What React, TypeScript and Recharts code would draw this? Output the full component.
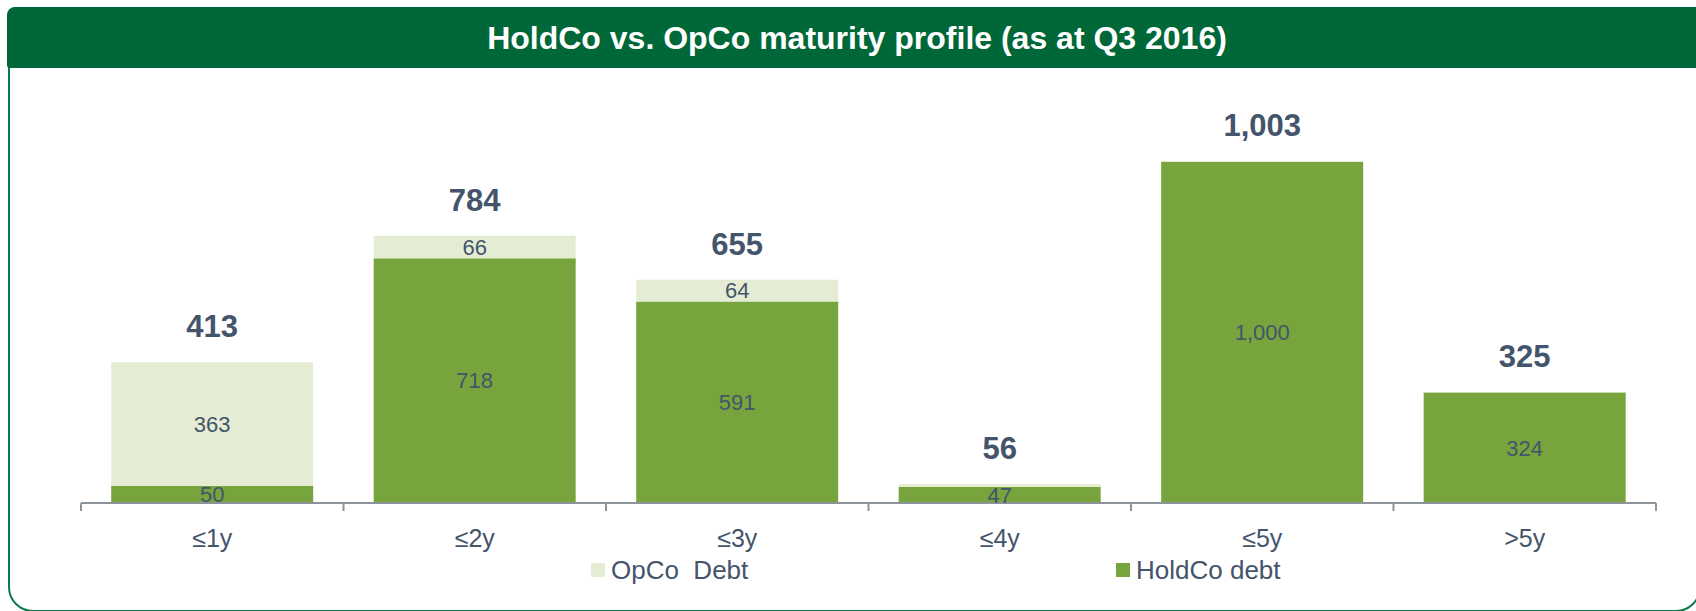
import React from 'react';
import { BarChart, Bar, XAxis, YAxis, LabelList, Legend } from 'recharts';

const categories = ['≤1y', '≤2y', '≤3y', '≤4y', '≤5y', '>5y'];
const holdcoDebt = [50, 718, 591, 47, 1000, 324];
const opcoDebt = [363, 66, 64, 9, 3, 1];
const totals = [413, 784, 655, 56, 1003, 325];
const seriesNames = ['OpCo  Debt', 'HoldCo debt'];

const data = categories.map((c, i) => ({
  category: c,
  holdco: holdcoDebt[i],
  opco: opcoDebt[i],
  total: totals[i],
}));

const DARK_GREEN = '#77A43C';
const LIGHT_GREEN = '#E4EDD4';
const TEXT = '#44546A';
const AXIS = '#8C9399';
const TICK_SIZE = 8;
const TICK_MARGIN = 18;
const FONT = '"Liberation Sans", Arial, sans-serif';

const fmt = (v: any) => Number(v).toLocaleString('en-US');

const CustomTick = (props: any) => {
  const { x, y, payload, index, visibleTicksCount } = props;
  const half = payload && payload.offset ? payload.offset : 131.25;
  const axisY = y - TICK_SIZE - TICK_MARGIN;
  const isLast = index === visibleTicksCount - 1;
  return (
    <g>
      <line x1={x - half} x2={x - half} y1={axisY} y2={axisY + TICK_SIZE} stroke={AXIS} strokeWidth={2} />
      {isLast && (
        <line x1={x + half} x2={x + half} y1={axisY} y2={axisY + TICK_SIZE} stroke={AXIS} strokeWidth={2} />
      )}
      <text x={x} y={y} dy="0.71em" textAnchor="middle" fontSize={25} fill={TEXT} fontFamily={FONT}>
        {payload.value}
      </text>
    </g>
  );
};

const legendItems = [
  { name: seriesNames[0], color: LIGHT_GREEN, left: 591 },
  { name: seriesNames[1], color: DARK_GREEN, left: 1116 },
];

const LegendContent = () => (
  <div style={{ position: 'relative', height: 0, width: 1696 }}>
    {legendItems.map((it) => (
      <div
        key={it.name}
        style={{
          position: 'absolute',
          left: it.left,
          top: 0,
          display: 'flex',
          alignItems: 'center',
          whiteSpace: 'pre',
          fontFamily: FONT,
          fontSize: 26,
          color: TEXT,
          lineHeight: '28px',
        }}
      >
        <span style={{ display: 'inline-block', width: 14, height: 14, background: it.color, marginRight: 6 }} />
        <span>{it.name}</span>
      </div>
    ))}
  </div>
);

export default function App() {
  return (
    <div
      style={{
        position: 'relative',
        width: 1696,
        height: 611,
        overflow: 'hidden',
        background: '#fff',
        fontFamily: FONT,
      }}
    >
      <style>{'body{margin:0;}'}</style>
      <div
        style={{
          position: 'absolute',
          left: 8,
          top: 30,
          width: 1693,
          height: 582,
          boxSizing: 'border-box',
          border: '2.5px solid #0B7A4B',
          borderRadius: 25,
        }}
      />
      <div
        style={{
          position: 'absolute',
          left: 7,
          top: 7,
          width: 1720,
          height: 61,
          background: '#006838',
          borderRadius: '8px 0 0 3px',
        }}
      />
      <div
        style={{
          position: 'absolute',
          left: 0,
          top: 8,
          width: 1714,
          height: 61,
          lineHeight: '61px',
          textAlign: 'center',
          color: '#fff',
          fontWeight: 'bold',
          fontSize: 32,
        }}
      >
        HoldCo vs. OpCo maturity profile (as at Q3 2016)
      </div>
      <div style={{ position: 'absolute', left: 0, top: 0 }}>
        <BarChart
          width={1696}
          height={611}
          data={data}
          margin={{ top: 128, right: 40, bottom: 48, left: 81 }}
          barCategoryGap="11.5%"
        >
          <YAxis hide domain={[0, 1100]} type="number" />
          <XAxis
            dataKey="category"
            height={60}
            interval={0}
            tickSize={TICK_SIZE}
            tickMargin={TICK_MARGIN}
            tickLine={false}
            axisLine={{ stroke: AXIS, strokeWidth: 2 }}
            tick={<CustomTick />}
          />
          <Legend content={<LegendContent />} wrapperStyle={{ left: 0, top: 556, width: 1696 }} />
          <Bar dataKey="holdco" stackId="a" fill={DARK_GREEN} name={seriesNames[1]} isAnimationActive={false}>
            <LabelList
              dataKey="holdco"
              position="center"
              formatter={fmt}
              fontSize={22}
              fill={TEXT}
              fontFamily={FONT}
            />
          </Bar>
          <Bar dataKey="opco" stackId="a" fill={LIGHT_GREEN} name={seriesNames[0]} isAnimationActive={false}>
            <LabelList
              dataKey="opco"
              position="center"
              formatter={(v: any) => (Number(v) >= 20 ? fmt(v) : '')}
              fontSize={22}
              fill={TEXT}
              fontFamily={FONT}
            />
            <LabelList
              dataKey="total"
              position="top"
              offset={25}
              formatter={fmt}
              fontSize={31}
              fontWeight="bold"
              fill={TEXT}
              fontFamily={FONT}
            />
          </Bar>
        </BarChart>
      </div>
    </div>
  );
}
